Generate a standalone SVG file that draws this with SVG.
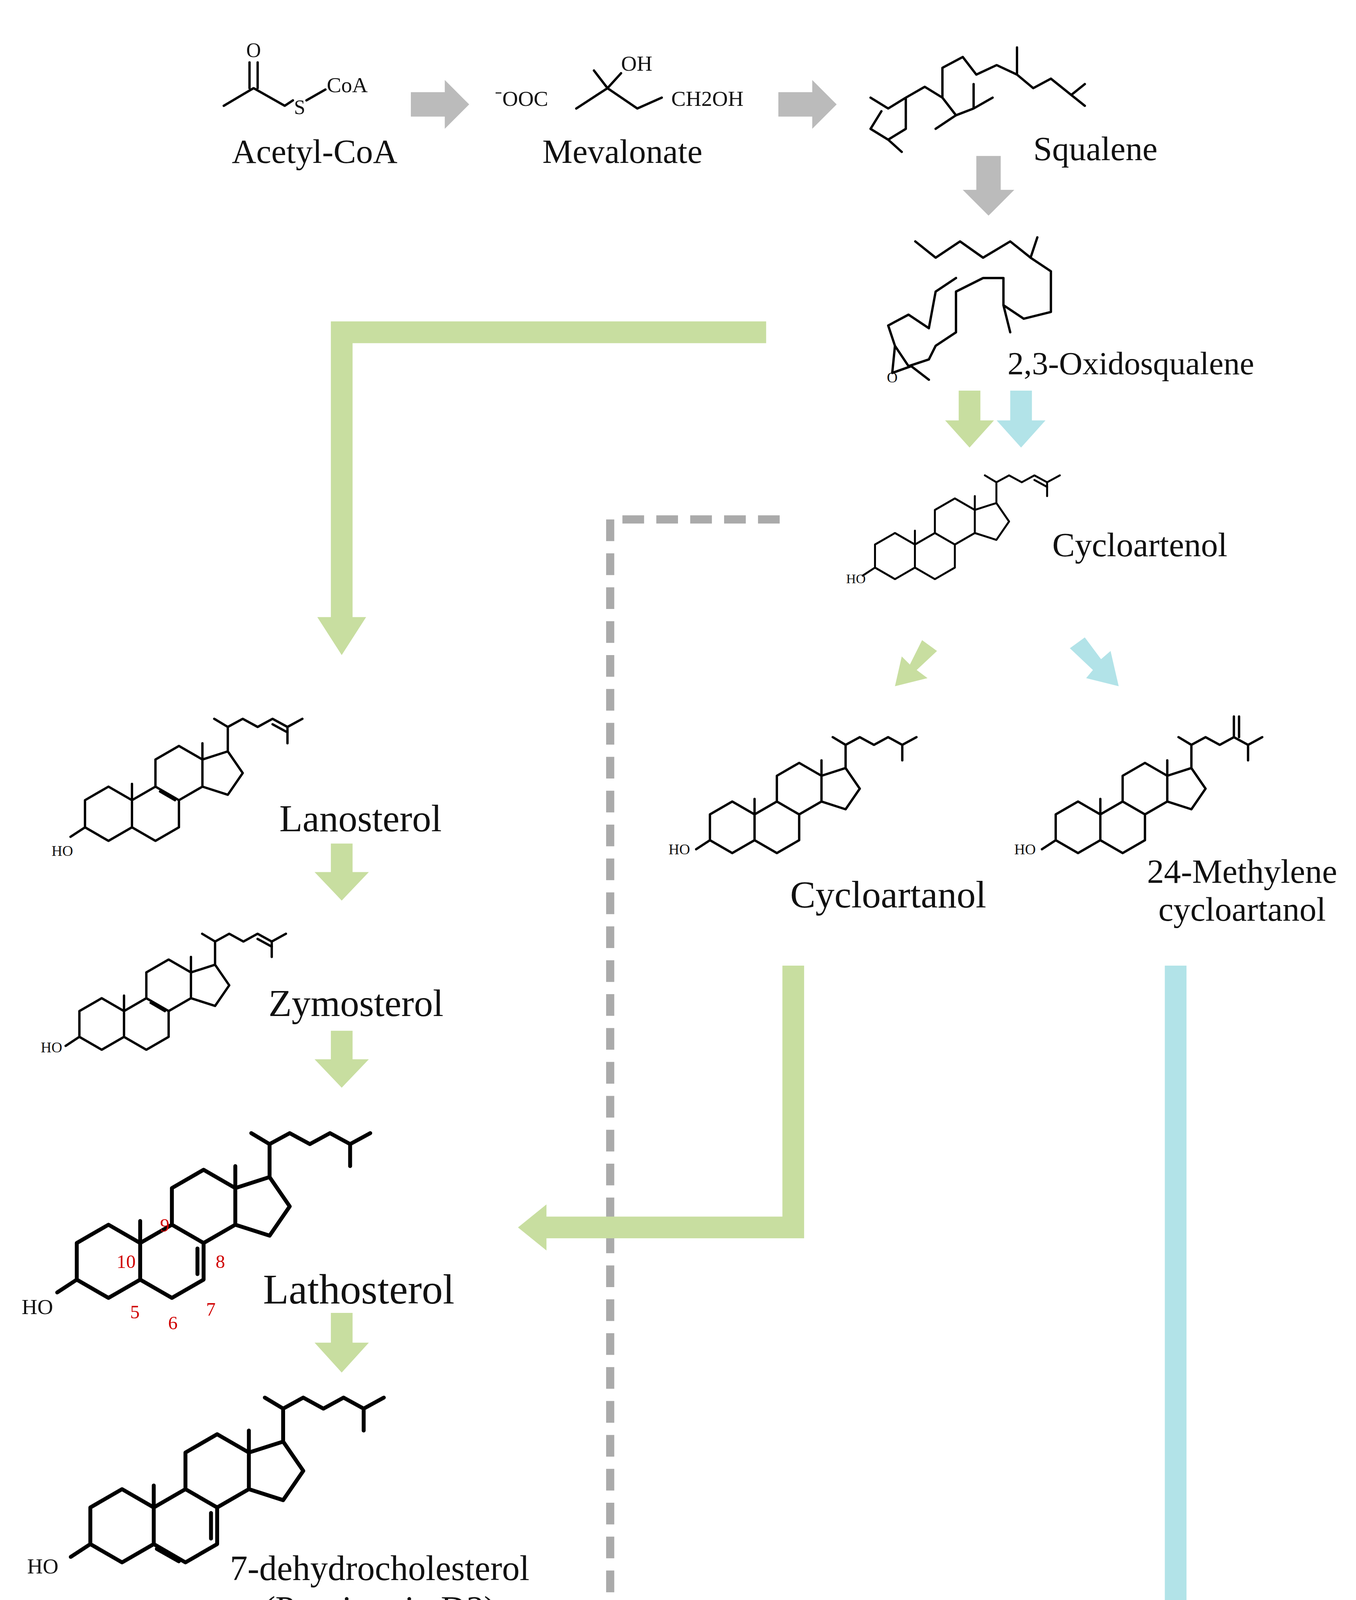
<svg xmlns="http://www.w3.org/2000/svg" width="3472" height="5431" viewBox="0 0 3472 5431">
<style>
.t{font-family:"Liberation Serif",serif;fill:#111}
.r{font-family:"Liberation Serif",serif;fill:#d00000}
.b{fill:none;stroke:#000;stroke-linejoin:round;stroke-linecap:round;vector-effect:non-scaling-stroke}
.g{fill:#c8dea0}.c{fill:#b2e3e8}.y{fill:#bbbbbb}
</style>
<defs>
<path id="st" class="b" d="M0,-1 L0.866,-0.5 L0.866,0.5 L0,1 L-0.866,0.5 L-0.866,-0.5 Z M0.866,-0.5 L1.732,-1 L2.598,-0.5 L2.598,0.5 L1.732,1 L0.866,0.5 M1.732,-1 L1.732,-2 L2.598,-2.5 L3.464,-2 L3.464,-1 L2.598,-0.5 M3.464,-2 L4.4,-2.3 L4.95,-1.5 L4.4,-0.7 L3.464,-1 M0.866,-0.5 L0.866,-1.1 M3.464,-2 L3.464,-2.6 M4.4,-2.3 L4.4,-3.2 L3.9,-3.5 M4.4,-3.2 L4.95,-3.5 L5.5,-3.2 L6.05,-3.5 L6.6,-3.2 L7.15,-3.5 M6.6,-3.2 L6.6,-2.6 M-0.866,0.5 L-1.4,0.85"/>
<path id="d24" class="b" d="M6.05,-3.3 L6.6,-3.0"/>
<path id="d89" class="b" d="M1.90,-0.82 L2.45,-0.50"/>
<path id="d78" class="b" d="M2.43,-0.35 L2.43,0.35"/>
<path id="d56" class="b" d="M0.95,0.63 L1.55,0.97"/>
</defs>
<g transform="scale(3.472)">
<g id="connectors">
<polygon class="y" points="303,68 328,68 328,59 346,77 328,95 328,86 303,86"/>
<polygon class="y" points="574,68 599,68 599,59 617,77 599,95 599,86 574,86"/>
<polygon class="y" points="720,115 738,115 738,140 748,140 729,159 710,140 720,140"/>
<polygon class="g" points="707,288 723,288 723,310 733,310 715,330 697,310 707,310"/>
<polygon class="c" points="745,288 761,288 761,310 771,310 753,330 735,310 745,310"/>
<polygon class="g" points="565,237 565,253 260,253 260,455 270,455 252,483 234,455 244,455 244,237"/>
<path d="M575,383 H450 V1220" fill="none" stroke="#aaa" stroke-width="6" stroke-dasharray="16,9"/>
<polygon fill="#aaa" points="440,1218 460,1218 450,1240"/>
<polygon class="g" points="680,472 691,480 676,494 684,500 660,506 665,484 671,490"/>
<polygon class="c" points="789,478 800,470 812,486 819,480 825,506 801,500 806,494"/>
<polygon class="g" points="244,622 260,622 260,643 272,643 252,664 232,643 244,643"/>
<polygon class="g" points="244,760 260,760 260,781 272,781 252,802 232,781 244,781"/>
<polygon class="g" points="244,968 260,968 260,990 272,990 252,1012 232,990 244,990"/>
<polygon class="g" points="244,1198 260,1198 260,1220 272,1220 252,1242 232,1220 244,1220"/>
<polygon class="g" points="577,712 593,712 593,913 403,913 403,922 382,905 403,888 403,897 577,897"/>
<polygon class="c" points="859,712 875,712 875,1215 885,1215 867,1242 849,1215 859,1215"/>
</g>
<g id="box-cholesterol"><rect x="14" y="1245" width="476" height="223" class="g"/></g>
<g id="box-phytosterols"><rect x="561" y="1243" width="419" height="225" class="c"/>
<text x="772" y="1368" class="t" font-size="40" text-anchor="middle">Phytosterols</text></g>
<g id="acetylcoa">
<path class="b" stroke-width="6" d="M165,78 L187,65 L210,78 L216,74 M184,65 L184,46 M190,65 L190,46 M226,74 L240,66"/>
<text x="187" y="42" class="t" font-size="15" text-anchor="middle">O</text>
<text x="221" y="84" class="t" font-size="15" text-anchor="middle">S</text>
<text x="241" y="68" class="t" font-size="16">CoA</text>
<text x="232" y="120" class="t" font-size="25" text-anchor="middle">Acetyl-CoA</text></g>
<g id="mevalonate">
<text x="365" y="78" class="t" font-size="16">⁻OOC</text>
<path class="b" stroke-width="6" d="M425,80 L448,65 L470,80 L488,72 M448,65 L458,54 M448,65 L438,52"/>
<text x="458" y="52" class="t" font-size="16">OH</text>
<text x="495" y="78" class="t" font-size="16">CH2OH</text>
<text x="459" y="120" class="t" font-size="25" text-anchor="middle">Mevalonate</text></g>
<g id="squalene">
<path class="b" stroke-width="6" d="M642,72 L655,80 L668,72 L668,95 L655,103 L642,95 M655,103 L665,112 M642,95 L650,82 M668,72 L682,64 L695,72 L695,50 L710,42 L720,55 L735,48 L750,55 L750,35 M750,55 L762,65 L775,58 L790,70 L800,62 M790,70 L800,78 M695,72 L705,85 L690,95 M705,85 L718,80 L718,62 M718,80 L732,72"/>
<text x="762" y="118" class="t" font-size="25">Squalene</text></g>
<g id="oxidosqualene">
<path class="b" stroke-width="6" d="M675,178 L690,190 L708,178 L725,190 L745,178 L760,190 L765,175 M760,190 L775,200 L775,230 L755,235 L740,225 L740,205 L725,205 L705,215 L705,245 L690,255 L685,265 L670,270 L660,255 L655,240 L670,232 L685,242 L690,215 L705,205 M740,225 L745,245 M660,255 L658,275 L672,270 M672,270 L685,280"/>
<text x="654" y="282" class="t" font-size="11">O</text>
<text x="743" y="276" class="t" font-size="24">2,3-Oxidosqualene</text></g>
<g id="cycloartenol">
<g transform="translate(660,410) scale(17)" stroke-width="5"><use href="#st"/><use href="#d24"/></g>
<text x="624" y="430" class="t" font-size="10">HO</text>
<text x="776" y="410" class="t" font-size="25">Cycloartenol</text></g>
<g id="lanosterol">
<g transform="translate(80,600) scale(20)" stroke-width="6"><use href="#st"/><use href="#d24"/><use href="#d89"/></g>
<text x="38" y="631" class="t" font-size="11">HO</text>
<text x="206" y="613" class="t" font-size="28">Lanosterol</text></g>
<g id="zymosterol">
<g transform="translate(75,755) scale(19)" stroke-width="6"><use href="#st"/><use href="#d24"/><use href="#d89"/></g>
<text x="30" y="776" class="t" font-size="11">HO</text>
<text x="198" y="749" class="t" font-size="28">Zymosterol</text></g>
<g id="lathosterol">
<g transform="translate(80,930) scale(27)" stroke-width="10"><use href="#st"/><use href="#d78"/></g>
<text x="16" y="969" class="t" font-size="16">HO</text>
<text x="194" y="961" class="t" font-size="31">Lathosterol</text>
<text x="118" y="908" class="r" font-size="14">9</text><text x="86" y="935" class="r" font-size="14">10</text>
<text x="159" y="935" class="r" font-size="14">8</text><text x="96" y="972" class="r" font-size="14">5</text>
<text x="124" y="980" class="r" font-size="14">6</text><text x="152" y="970" class="r" font-size="14">7</text></g>
<g id="dehydrocholesterol">
<g transform="translate(90,1125) scale(27)" stroke-width="10"><use href="#st"/><use href="#d78"/><use href="#d56"/></g>
<text x="20" y="1160" class="t" font-size="16">HO</text>
<text x="280" y="1165" class="t" font-size="26" text-anchor="middle">7-dehydrocholesterol</text>
<text x="280" y="1195" class="t" font-size="26" text-anchor="middle">(Provitamin D3)</text></g>
<g id="cycloartanol">
<g transform="translate(540,610) scale(19)" stroke-width="6"><use href="#st"/></g>
<text x="493" y="630" class="t" font-size="11">HO</text>
<text x="655" y="669" class="t" font-size="28" text-anchor="middle">Cycloartanol</text></g>
<g id="methylenecycloartanol">
<g transform="translate(795,610) scale(19)" stroke-width="6"><use href="#st"/><path class="b" d="M6.05,-3.5 L6.05,-4.3 M6.25,-3.5 L6.25,-4.3"/></g>
<text x="748" y="630" class="t" font-size="11">HO</text>
<text x="916" y="651" class="t" font-size="25" text-anchor="middle">24-Methylene</text>
<text x="916" y="679" class="t" font-size="25" text-anchor="middle">cycloartanol</text></g>
<g id="cholesterol">
<g transform="translate(140,1390) scale(27)" stroke-width="10"><use href="#st"/><use href="#d56"/></g>
<text x="70" y="1422" class="t" font-size="16">HO</text>
<text x="248" y="1434" class="t" font-size="36">Cholesterol</text>
<text x="178" y="1356" class="r" font-size="14">9</text><text x="145" y="1384" class="r" font-size="14">10</text>
<text x="231" y="1389" class="r" font-size="14">8</text><text x="161" y="1418" class="r" font-size="14">5</text>
<text x="186" y="1430" class="r" font-size="14">6</text><text x="218" y="1414" class="r" font-size="14">7</text></g>
<g id="legend">
<path d="M65,1523 H108" stroke="#aaa" stroke-width="6" stroke-dasharray="14,8"/>
<polygon fill="#aaa" points="108,1512 130,1523 108,1534"/>
<text x="236" y="1518" class="t" font-size="22" text-anchor="middle">Alternative</text>
<text x="232" y="1546" class="t" font-size="22" text-anchor="middle">synthesis  pathway</text>
<rect x="355" y="1515" width="60" height="23" class="g"/>
<text x="533" y="1522" class="t" font-size="22" text-anchor="middle">Synthesis pathway</text>
<text x="533" y="1550" class="t" font-size="22" text-anchor="middle">of cholesterol</text>
<rect x="672" y="1515" width="60" height="23" class="c"/>
<text x="842" y="1522" class="t" font-size="22" text-anchor="middle">Synthesis pathway</text>
<text x="842" y="1550" class="t" font-size="22" text-anchor="middle">of phytosterols</text></g>
</g>
</svg>
